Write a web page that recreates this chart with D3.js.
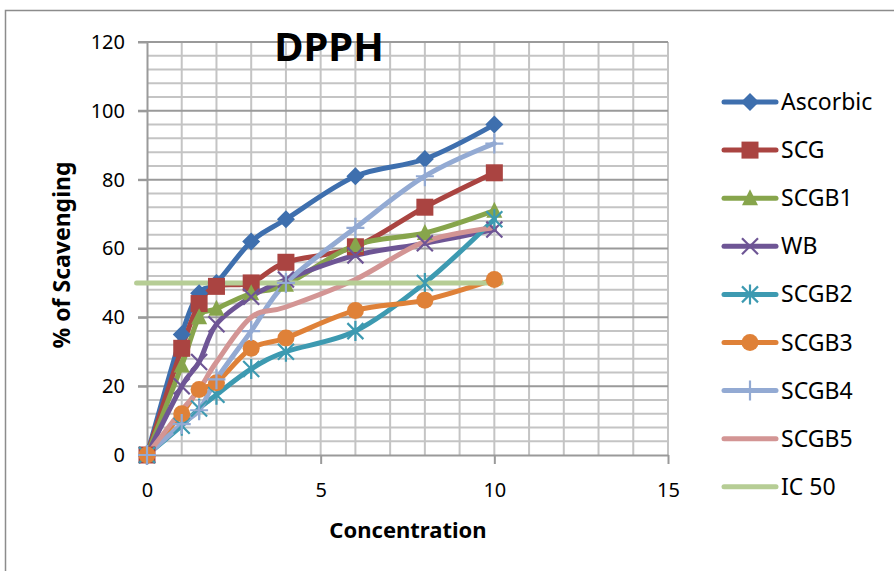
<!DOCTYPE html>
<html>
<head>
<meta charset="utf-8">
<script src="https://cdn.jsdelivr.net/npm/d3@7"></script>
<style>
  html, body { margin: 0; padding: 0; background: #fff; }
  svg { display: block; }
  text { font-family: "Noto Sans", "DejaVu Sans", sans-serif; fill: #000; }
</style>
</head>
<body>
<svg id="chart" width="894" height="571"></svg>
<script>
// DPPH radical scavenging versus concentration
const concentration = [0, 1, 1.5, 2, 3, 4, 6, 8, 10];
const ascorbic = [0, 35, 47, 50, 62, 68.5, 81, 86, 96];
const scg      = [0, 31, 44, 49, 50, 56, 60.5, 72, 82];
const scgb1    = [0, 26, 40, 42.5, 47, 49.5, 61, 64.5, 71];
const wb       = [0, 20, 27, 38, 46, 51, 58, 61.5, 65.5];
const scgb2    = [0, 8.5, 13.5, 17.5, 25, 30, 36, 50, 68.5];
const scgb3    = [0, 12, 19, 21, 31, 34, 42, 45, 51];
const scgb4    = [0, 9, 13, 22, 36, 50, 66, 81, 90.5];
const scgb5    = [0, 13, 19, 27, 40, 43, 51, 62, 66];
const ic50X    = [-0.3, 10.2];
const ic50     = [50, 50];

const seriesNames = ["Ascorbic", "SCG", "SCGB1", "WB", "SCGB2", "SCGB3", "SCGB4", "SCGB5", "IC 50"];
const xTicks = [0, 5, 10, 15];
const yTicks = [0, 20, 40, 60, 80, 100, 120];

const series = [
  { name: seriesNames[0], x: concentration, y: ascorbic, color: "#3E6FAE", marker: "diamond" },
  { name: seriesNames[1], x: concentration, y: scg,      color: "#AA4441", marker: "square" },
  { name: seriesNames[2], x: concentration, y: scgb1,    color: "#87A54C", marker: "triangle" },
  { name: seriesNames[3], x: concentration, y: wb,       color: "#6E5595", marker: "x" },
  { name: seriesNames[4], x: concentration, y: scgb2,    color: "#3D9AB1", marker: "asterisk" },
  { name: seriesNames[5], x: concentration, y: scgb3,    color: "#DF8138", marker: "circle" },
  { name: seriesNames[6], x: concentration, y: scgb4,    color: "#93AAD3", marker: "plus" },
  { name: seriesNames[7], x: concentration, y: scgb5,    color: "#D39594", marker: "none" },
  { name: seriesNames[8], x: ic50X,         y: ic50,     color: "#B6CD95", marker: "none" }
];

const svg = d3.select("#chart");

// outer chart frame
svg.append("path")
  .attr("d", "M5.5,571 V10.5 H894")
  .attr("fill", "none").attr("stroke", "#8c8c8c").attr("stroke-width", 1.5);

const x = d3.scaleLinear().domain([0, 15]).range([147, 668]);
const y = d3.scaleLinear().domain([0, 120]).range([455, 42]);

// gridlines
const grid = svg.append("g");
grid.selectAll(".vg").data(d3.range(1, 16)).join("line")
  .attr("x1", d => x(d)).attr("x2", d => x(d))
  .attr("y1", y(120)).attr("y2", y(0))
  .attr("stroke", "#c4c4c4").attr("stroke-width", 2);
grid.selectAll(".hg").data(d3.range(4, 121, 4).filter(v => v % 20 !== 0)).join("line")
  .attr("x1", x(0)).attr("x2", x(15))
  .attr("y1", d => y(d)).attr("y2", d => y(d))
  .attr("stroke", "#c4c4c4").attr("stroke-width", 2);
grid.selectAll(".hm").data(yTicks.filter(v => v > 0)).join("line")
  .attr("x1", x(0) - 9).attr("x2", x(15))
  .attr("y1", d => y(d)).attr("y2", d => y(d))
  .attr("stroke", "#9a9a9a").attr("stroke-width", 2);

// axes
const xAxis = d3.axisBottom(x).tickValues(xTicks).tickSize(9).tickPadding(19).tickSizeOuter(0);
const gx = svg.append("g").attr("transform", `translate(0,${y(0)})`).call(xAxis);
gx.select(".domain").attr("stroke", "#9a9a9a").attr("stroke-width", 2);
gx.selectAll(".tick line").attr("stroke", "#9a9a9a").attr("stroke-width", 2);
gx.selectAll(".tick text").attr("font-size", 20).attr("font-family", "Noto Sans").attr("dy", "0.71em");

const yAxis = d3.axisLeft(y).tickValues(yTicks).tickSize(9).tickPadding(13).tickSizeOuter(0);
const gy = svg.append("g").attr("transform", `translate(${x(0)},0)`).call(yAxis);
gy.select(".domain").attr("stroke", "#9a9a9a").attr("stroke-width", 2);
gy.selectAll(".tick line").attr("stroke", "#9a9a9a").attr("stroke-width", 2);
gy.selectAll(".tick text").attr("font-size", 20).attr("font-family", "Noto Sans");

// titles
svg.append("text").attr("x", 329).attr("y", 61).attr("text-anchor", "middle")
  .attr("font-size", 40).attr("font-weight", "bold").text("DPPH");
svg.append("text").attr("x", 408).attr("y", 538).attr("text-anchor", "middle")
  .attr("font-size", 22).attr("font-weight", "bold").text("Concentration");
svg.append("text").attr("transform", "translate(70,255) rotate(-90)").attr("text-anchor", "middle")
  .attr("font-size", 23).attr("font-weight", "bold").text("% of Scavenging");

// marker drawing
function drawMarker(g, type, color, cx, cy) {
  if (type === "diamond") {
    g.append("path").attr("d", `M${cx},${cy - 9}L${cx + 9},${cy}L${cx},${cy + 9}L${cx - 9},${cy}Z`).attr("fill", color);
  } else if (type === "square") {
    g.append("rect").attr("x", cx - 8.5).attr("y", cy - 8.5).attr("width", 17).attr("height", 17).attr("fill", color);
  } else if (type === "triangle") {
    g.append("path").attr("d", `M${cx},${cy - 9}L${cx + 8},${cy + 7}L${cx - 8},${cy + 7}Z`).attr("fill", color);
  } else if (type === "circle") {
    g.append("circle").attr("cx", cx).attr("cy", cy).attr("r", 8.5).attr("fill", color);
  } else if (type === "x") {
    g.append("path").attr("d", `M${cx - 8},${cy - 8}L${cx + 8},${cy + 8}M${cx - 8},${cy + 8}L${cx + 8},${cy - 8}`)
      .attr("stroke", color).attr("stroke-width", 2.2);
  } else if (type === "asterisk") {
    g.append("path").attr("d", `M${cx - 8},${cy - 8}L${cx + 8},${cy + 8}M${cx - 8},${cy + 8}L${cx + 8},${cy - 8}M${cx},${cy - 10}V${cy + 10}`)
      .attr("stroke", color).attr("stroke-width", 2.2);
  } else if (type === "plus") {
    g.append("path").attr("d", `M${cx - 9},${cy}H${cx + 9}M${cx},${cy - 10}V${cy + 10}`)
      .attr("stroke", color).attr("stroke-width", 2.2);
  }
}

const line = d3.line()
  .x(d => x(d[0])).y(d => y(d[1]))
  .curve(d3.curveCardinal.tension(0));

// lines first, then markers on top
const linesG = svg.append("g");
series.forEach(s => {
  const pts = s.x.map((v, i) => [v, s.y[i]]);
  linesG.append("path").datum(pts).attr("d", line)
    .attr("fill", "none").attr("stroke", s.color).attr("stroke-width", 5)
    .attr("stroke-linejoin", "round").attr("stroke-linecap", "round");
});
const markersG = svg.append("g");
series.forEach(s => {
  s.x.forEach((v, i) => drawMarker(markersG, s.marker, s.color, x(v), y(s.y[i])));
});

// legend
const legend = svg.append("g");
series.forEach((s, i) => {
  const ly = 102 + i * 48.1;
  legend.append("line").attr("x1", 724).attr("x2", 776).attr("y1", ly).attr("y2", ly)
    .attr("stroke", s.color).attr("stroke-width", 5).attr("stroke-linecap", "round");
  drawMarker(legend, s.marker, s.color, 750, ly);
  legend.append("text").attr("x", 781).attr("y", ly).attr("dy", "0.35em")
    .attr("font-size", 23).text(s.name);
});
</script>
</body>
</html>
